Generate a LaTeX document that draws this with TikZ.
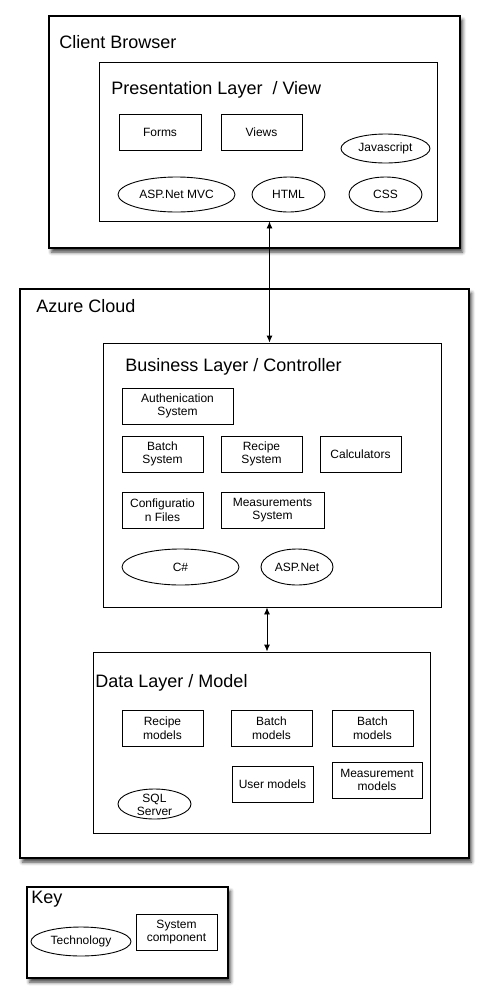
\documentclass[tikz,border=0pt]{standalone}
\usepackage{fontspec}
\setmainfont{Liberation Sans}
\usetikzlibrary{shapes.geometric,arrows.meta,shadows.blur}
\begin{document}
\begin{tikzpicture}[x=1pt,y=-1pt,
  every node/.style={line width=0.9pt},
  outer/.style={draw, line width=1.1pt, fill=white, inner sep=0pt, rectangle,
    blur shadow={shadow xshift=2.5pt, shadow yshift=-4pt, shadow blur radius=3.5pt, shadow opacity=75}},
  layer/.style={draw, line width=0.9pt, fill=white, inner sep=0pt, rectangle},
  title/.style={anchor=west, inner sep=0pt, font=\fontsize{18}{20}\selectfont},
  comp/.style={draw, line width=0.9pt, rectangle, inner sep=0pt, minimum height=36pt, minimum width=81pt,
    align=center, font=\fontsize{12}{13.5}\selectfont},
  tech/.style={draw, line width=0.9pt, ellipse, inner sep=0pt, align=center,
    font=\fontsize{12}{13.5}\selectfont},
  lbl/.style={inner sep=0pt, align=center, font=\fontsize{12}{13.5}\selectfont},
  arr/.style={line width=0.9pt, {Latex[length=7pt,width=6pt]}-{Latex[length=7pt,width=6pt]}}
]
\useasboundingbox (0,0) rectangle (489,1002);

% Client Browser
\node[outer, minimum width=411pt, minimum height=232pt] (client) at (254.5,132) {};
\node[title] (clientT) at (59,42) {Client Browser};
\node[layer, minimum width=338pt, minimum height=159pt] (pres) at (268,141.5) {};
\node[title] (presT) at (111,89.5) {Presentation Layer\ \ / View};
\node[comp, minimum width=82pt] (forms) at (160,132) {Forms};
\node[comp] (views) at (261.5,132) {Views};
\node[tech, minimum width=89pt, minimum height=29pt] (js) at (385.5,148.5) {Javascript};
\node[tech, minimum width=117pt, minimum height=35pt] (aspmvc) at (176.5,194.5) {ASP.Net MVC};
\node[tech, minimum width=73pt, minimum height=35pt] (html) at (288.5,194.5) {HTML};
\node[tech, minimum width=73pt, minimum height=35pt] (css) at (385.5,194.5) {CSS};

% Azure Cloud
\node[outer, minimum width=449pt, minimum height=569pt] (azure) at (244.5,573.5) {};
\node[title] (azureT) at (36,306) {Azure Cloud};
\node[layer, minimum width=338pt, minimum height=264pt] (bus) at (272,475) {};
\node[title] (busT) at (125,367) {Business Layer / Controller};
\node[comp, minimum width=111pt] (auth) at (177.5,406) {Authenication\\System};
\node[comp] (batch) at (162.5,454) {Batch\\System};
\node[comp] (recipe) at (261.5,454) {Recipe\\System};
\node[comp] (calc) at (360.5,454) {Calculators};
\node[comp] (config) at (162.5,510) {Configuratio\\n Files};
\node[comp, minimum width=103pt] (meas) at (272.5,510) {Measurements\\System};
\node[tech, minimum width=117pt, minimum height=36pt] (csharp) at (180.5,567) {C\#};
\node[tech, minimum width=72pt, minimum height=36pt] (aspnet) at (297,567) {ASP.Net};

\node[layer, minimum width=337pt, minimum height=181pt] (data) at (261.5,742.5) {};
\node[title] (dataT) at (95,683) {Data Layer / Model};
\node[comp] (recm) at (162.5,728) {Recipe\\models};
\node[comp] (batm1) at (271.5,728) {Batch\\models};
\node[comp] (batm2) at (372.5,728) {Batch\\models};
\node[comp] (userm) at (272.5,784) {User models};
\node[comp, minimum width=90pt] (measm) at (377,780) {Measurement\\models};
\node[tech, minimum width=73pt, minimum height=30pt] (sql) at (154.5,804) {};
\node[lbl] (sqlT) at (154.5,805) {SQL\\Server};

% Key
\node[outer, minimum width=201pt, minimum height=91pt] (key) at (127.5,932.5) {};
\node[title] (keyT) at (31,899) {Key};
\node[tech, minimum width=100pt, minimum height=29pt] (techk) at (81,941.5) {Technology};
\node[comp] (syscomp) at (176.5,932) {System\\component};

% connectors
\draw[arr] ([xshift=1.5pt]pres.south) -- ([xshift=-2.5pt]bus.north);
\draw[arr] ([xshift=-5pt]bus.south) -- ([xshift=5.5pt]data.north);
\end{tikzpicture}
\end{document}
